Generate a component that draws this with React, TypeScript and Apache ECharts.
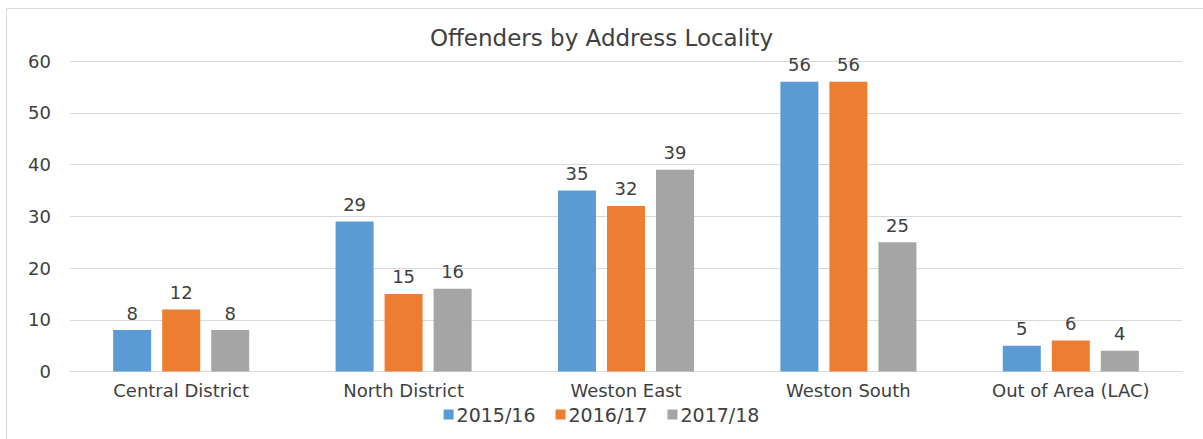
import React, { useEffect, useRef } from "react";
import * as echarts from "echarts";

const categories = ["Central District", "North District", "Weston East", "Weston South", "Out of Area (LAC)"];
const seriesNames = ["2015/16", "2016/17", "2017/18"];
const values2015 = [8, 29, 35, 56, 5];
const values2016 = [12, 15, 32, 56, 6];
const values2017 = [8, 16, 39, 25, 4];
const colors = ["#5B9BD5", "#ED7D31", "#A5A5A5"];
const title = "Offenders by Address Locality";

const FONT = "DejaVu Sans";
const TEXT = "#404040";

export default function App() {
  const ref = useRef<HTMLDivElement>(null);
  useEffect(() => {
    if (!ref.current) return;
    const chart = echarts.init(ref.current, undefined, { renderer: "svg" });
    const data = [values2015, values2016, values2017];
    chart.setOption({
      animation: false,
      backgroundColor: "#ffffff",
      textStyle: { fontFamily: FONT },
      title: {
        text: title,
        left: "center",
        top: 21,
        textStyle: { fontFamily: FONT, fontSize: 23, fontWeight: "normal", color: TEXT },
      },
      legend: {
        data: seriesNames,
        bottom: 10,
        left: "center",
        icon: "rect",
        itemWidth: 10,
        itemHeight: 10,
        itemGap: 20,
        textStyle: { fontFamily: FONT, fontSize: 19, color: TEXT, padding: [0, 0, 0, -2] },
      },
      grid: { left: 70, right: 21, top: 61, bottom: 67.5, containLabel: false },
      xAxis: {
        type: "category",
        data: categories,
        axisLine: { lineStyle: { color: "#d9d9d9", width: 1 } },
        axisTick: { show: false },
        axisLabel: { fontFamily: FONT, fontSize: 18, color: TEXT, margin: 10 },
      },
      yAxis: {
        type: "value",
        min: 0,
        max: 60,
        interval: 10,
        axisLine: { show: false },
        axisTick: { show: false },
        splitLine: { lineStyle: { color: "#d9d9d9", width: 1 } },
        axisLabel: { fontFamily: FONT, fontSize: 18, color: TEXT, margin: 19 },
      },
      graphic: [
        {
          type: "rect",
          shape: { x: 6.5, y: 8.5, width: 1210, height: 440 },
          style: { fill: "none", stroke: "#d9d9d9", lineWidth: 1 },
          silent: true,
          z: -1,
        },
      ],
      series: seriesNames.map((name, i) => ({
        name,
        type: "bar",
        data: data[i],
        barWidth: 38,
        barGap: "29%",
        itemStyle: { color: colors[i] },
        label: {
          show: true,
          position: "top",
          distance: 8,
          fontFamily: FONT,
          fontSize: 18,
          color: TEXT,
        },
      })),
    });
    return () => chart.dispose();
  }, []);
  return (
    <div
      ref={ref}
      style={{ position: "fixed", left: 0, top: 0, width: 1203, height: 439 }}
    />
  );
}
